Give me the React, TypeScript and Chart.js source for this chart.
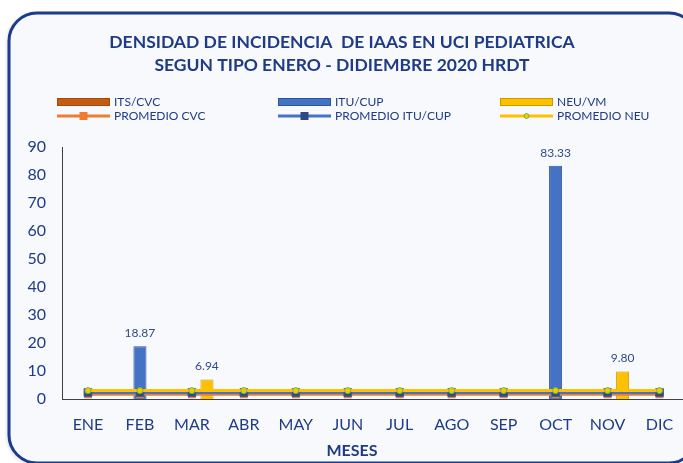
import React, { useEffect, useRef } from "react";
import { Chart, registerables } from "chart.js";

Chart.register(...registerables);

const categories = ["ENE", "FEB", "MAR", "ABR", "MAY", "JUN", "JUL", "AGO", "SEP", "OCT", "NOV", "DIC"];
const itsCvc = [0, 0, 0, 0, 0, 0, 0, 0, 0, 0, 0, 0];
const ituCup = [0, 18.87, 0, 0, 0, 0, 0, 0, 0, 83.33, 0, 0];
const neuVm = [0, 0, 6.94, 0, 0, 0, 0, 0, 0, 0, 9.8, 0];
const promCvc = [1.7, 1.7, 1.7, 1.7, 1.7, 1.7, 1.7, 1.7, 1.7, 1.7, 1.7, 1.7];
const promItu = [2.3, 2.3, 2.3, 2.3, 2.3, 2.3, 2.3, 2.3, 2.3, 2.3, 2.3, 2.3];
const promNeu = [3.0, 3.0, 3.0, 3.0, 3.0, 3.0, 3.0, 3.0, 3.0, 3.0, 3.0, 3.0];
const yTicks = [0, 10, 20, 30, 40, 50, 60, 70, 80, 90];
const titleLines = ["DENSIDAD DE INCIDENCIA  DE IAAS EN UCI PEDIATRICA", "SEGUN TIPO ENERO - DIDIEMBRE 2020 HRDT"];
const xTitle = "MESES";

const NAVY = "#1F3B87";
const FONT = "Lato";
const CANVAS_W = 692;

function barGradient(chart: any, base: string, light: string, dark: string, di: number) {
  return (c: any) => {
    const el = c.element;
    if (!el || !chart || typeof el.x !== "number" || !isFinite(el.x)) return base;
    const half = (el.width || 13) / 2;
    const g = c.chart.ctx.createLinearGradient(el.x - half, 0, el.x + half, 0);
    g.addColorStop(0, dark);
    g.addColorStop(0.3, light);
    g.addColorStop(0.7, base);
    g.addColorStop(1, dark);
    return g;
  };
}

const framePlugin = {
  id: "frame",
  beforeDraw(chart: any) {
    const ctx = chart.ctx;
    ctx.save();
    ctx.fillStyle = "#ffffff";
    ctx.fillRect(0, 0, chart.width, chart.height);
    const x = 9, y = 13, w = 688, h = 450, r = 28;
    ctx.beginPath();
    ctx.moveTo(x + r, y);
    ctx.lineTo(x + w - r, y);
    ctx.arcTo(x + w, y, x + w, y + r, r);
    ctx.lineTo(x + w, y + h - r);
    ctx.arcTo(x + w, y + h, x + w - r, y + h, r);
    ctx.lineTo(x + r, y + h);
    ctx.arcTo(x, y + h, x, y + h - r, r);
    ctx.lineTo(x, y + r);
    ctx.arcTo(x, y, x + r, y, r);
    ctx.closePath();
    ctx.shadowColor = "rgba(0,0,0,0.25)";
    ctx.shadowBlur = 4;
    ctx.shadowOffsetX = -1;
    ctx.shadowOffsetY = 1;
    ctx.fillStyle = "#F7F9FD";
    ctx.fill();
    ctx.shadowColor = "transparent";
    ctx.lineWidth = 3;
    ctx.strokeStyle = "#1C3A8E";
    ctx.stroke();
    ctx.restore();
  },
  afterDatasetsDraw(chart: any) {
    const ctx = chart.ctx;
    ctx.save();
    ctx.font = `12px ${FONT}`;
    ctx.fillStyle = "#2F4A8A";
    ctx.textAlign = "center";
    ctx.textBaseline = "middle";
    [1, 2].forEach((di) => {
      const meta = chart.getDatasetMeta(di);
      const data = chart.data.datasets[di].data as number[];
      meta.data.forEach((el: any, i: number) => {
        if (data[i] > 0) ctx.fillText(data[i].toFixed(2), el.x, el.y - 13);
      });
    });
    ctx.restore();
  },
  afterDraw(chart: any) {
    const ctx = chart.ctx;
    ctx.save();
    ctx.fillStyle = NAVY;
    ctx.textAlign = "center";
    ctx.textBaseline = "middle";
    ctx.font = `bold 17.5px ${FONT}`;
    ctx.fillText(titleLines[0], 342, 42);
    ctx.fillText(titleLines[1], 342, 65);
    ctx.font = `bold 16px ${FONT}`;
    ctx.fillText(xTitle, 352, 451);
    const ds = chart.data.datasets;
    const cols = [57, 278, 500];
    const sw = 53;
    const barCols = [["#C55A11", "#A04A0E"], ["#4472C4", "#2F5597"], ["#FFC000", "#C99A00"]];
    ctx.font = `12px ${FONT}`;
    ctx.textAlign = "left";
    for (let c = 0; c < 3; c++) {
      const bar = ds[c];
      const line = ds[c + 3];
      const sx = cols[c];
      ctx.fillStyle = barCols[c][0];
      ctx.fillRect(sx, 98, sw, 8);
      ctx.strokeStyle = barCols[c][1];
      ctx.lineWidth = 1;
      ctx.strokeRect(sx + 0.5, 98.5, sw - 1, 7);
      ctx.fillStyle = NAVY;
      ctx.fillText(bar.label, sx + sw + 4, 102);
      ctx.strokeStyle = line.borderColor;
      ctx.lineWidth = 3;
      ctx.beginPath();
      ctx.moveTo(sx, 116);
      ctx.lineTo(sx + sw, 116);
      ctx.stroke();
      const mx = sx + sw / 2;
      if (line.pointStyle === "rect") {
        ctx.fillStyle = line.pointBackgroundColor;
        ctx.fillRect(mx - 4, 112, 8, 8);
      } else {
        ctx.beginPath();
        ctx.arc(mx, 116, 2.5, 0, Math.PI * 2);
        ctx.fillStyle = line.pointBackgroundColor;
        ctx.fill();
        ctx.strokeStyle = line.pointBorderColor;
        ctx.lineWidth = 1;
        ctx.stroke();
      }
      ctx.fillStyle = NAVY;
      ctx.fillText(line.label, sx + sw + 4, 116);
    }
    ctx.restore();
  },
};

export default function App() {
  const ref = useRef<HTMLCanvasElement>(null);
  useEffect(() => {
    if (!ref.current) return;
    const chart: any = new Chart(ref.current, {
      type: "bar",
      data: {
        labels: categories,
        datasets: [
          { type: "bar", label: "ITS/CVC", data: itsCvc, backgroundColor: (c: any) => barGradient(c.chart, "#C55A11", "#E07A35", "#8E3F0B", 0)(c), borderColor: "#A04A0E", borderWidth: 1, order: 5, categoryPercentage: 0.87, barPercentage: 0.867 },
          { type: "bar", label: "ITU/CUP", data: ituCup, backgroundColor: (c: any) => barGradient(c.chart, "#4472C4", "#6A91D6", "#2F5597", 1)(c), borderColor: "#2F5597", borderWidth: 1, order: 5, categoryPercentage: 0.87, barPercentage: 0.867 },
          { type: "bar", label: "NEU/VM", data: neuVm, backgroundColor: (c: any) => barGradient(c.chart, "#FFC000", "#FFE04D", "#D9A300", 2)(c), borderColor: "#C99A00", borderWidth: 1, order: 5, categoryPercentage: 0.87, barPercentage: 0.867 },
          { type: "line", label: "PROMEDIO CVC", data: promCvc, borderColor: "#ED7D31", backgroundColor: "#ED7D31", borderWidth: 3, pointStyle: "rect", pointRadius: 5.5, pointBackgroundColor: "#ED7D31", pointBorderColor: "#ED7D31", pointBorderWidth: 0, order: 3 },
          { type: "line", label: "PROMEDIO ITU/CUP", data: promItu, borderColor: "#4472C4", backgroundColor: "#4472C4", borderWidth: 3, pointStyle: "rect", pointRadius: 5.5, pointBackgroundColor: "#2E4A86", pointBorderColor: "#3A5FA8", pointBorderWidth: 1, order: 2 },
          { type: "line", label: "PROMEDIO NEU", data: promNeu, borderColor: "#FFC000", backgroundColor: "#FFC000", borderWidth: 3, pointStyle: "circle", pointRadius: 3, pointBackgroundColor: "#E8D000", pointBorderColor: "#7FB241", pointBorderWidth: 1, order: 1 },
        ] as any,
      },
      options: {
        animation: false,
        responsive: false,
        devicePixelRatio: 1,
        layout: { padding: { top: 147, left: 0, right: 0, bottom: 0 } },
        plugins: { legend: { display: false }, title: { display: false }, tooltip: { enabled: false } },
        scales: {
          x: {
            grid: { display: false, drawTicks: false },
            border: { display: true, color: "#404040", width: 1 },
            ticks: { color: NAVY, font: { family: FONT, size: 16 }, padding: 16 },
            afterFit: (s: any) => { s.height = 64; },
          },
          y: {
            min: 0,
            max: 90,
            grid: { display: false, drawTicks: false },
            border: { display: true, color: "#404040", width: 1 },
            afterBuildTicks: (s: any) => { s.ticks = yTicks.map((v) => ({ value: v })); },
            ticks: { color: NAVY, font: { family: FONT, size: 16 }, padding: 16 },
            afterFit: (s: any) => { s.width = 62; },
          },
        },
      } as any,
      plugins: [framePlugin],
    });
    return () => chart.destroy();
  }, []);
  return (
    <div style={{ position: "absolute", left: 0, top: 0, width: 683, height: 463, overflow: "hidden" }}>
      <canvas ref={ref} width={CANVAS_W} height={463} style={{ width: CANVAS_W, height: 463, display: "block" }} />
    </div>
  );
}
